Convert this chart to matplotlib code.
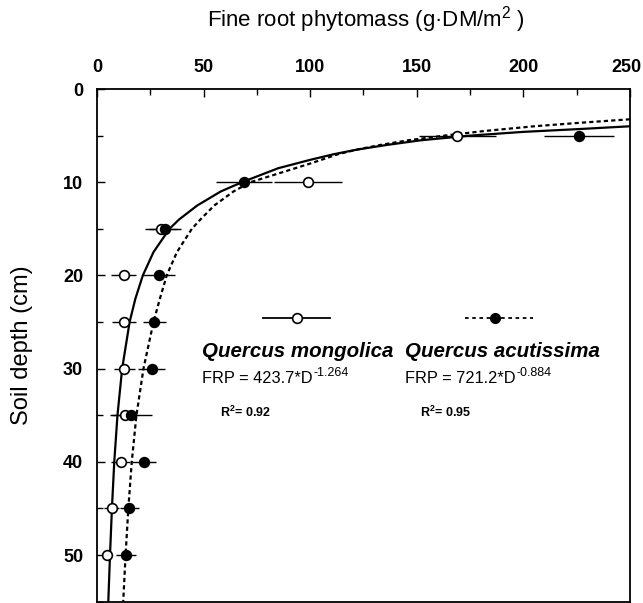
import matplotlib
matplotlib.use("Agg")
import matplotlib.pyplot as plt
from matplotlib.ticker import MultipleLocator
from matplotlib.transforms import ScaledTranslation

plt.rcParams['font.family'] = ['Liberation Sans', 'DejaVu Sans']
plt.rcParams['mathtext.fontset'] = 'custom'
plt.rcParams['mathtext.rm'] = 'Liberation Sans'
plt.rcParams['mathtext.bf'] = 'Liberation Sans:bold'
plt.rcParams['mathtext.default'] = 'regular'

# ---- data ----
depths = [5, 10, 15, 20, 25, 30, 35, 40, 45, 50]
mongolica_frp = [169, 99, 30, 12.5, 12.8, 12.8, 13, 11.2, 7, 4.6]
mongolica_se = [18, 16, 7.5, 6, 5.6, 5, 6, 4.5, 3.5, 2]
acutissima_frp = [226, 69, 32, 29, 26.9, 25.6, 15.9, 22.2, 15.2, 13.6]
acutissima_se = [16.5, 13, 7.5, 7.5, 5.5, 6.2, 9.7, 5.7, 4.3, 4.7]

# fitted curves as drawn (depth, FRP)
mong_curve_depth = [4.0, 4.3, 4.6, 5.0, 5.5, 6.0, 6.5, 7.0, 7.6, 8.5, 10, 11, 12.5, 14, 15,
                    17.5, 20, 22.5, 25, 30, 35, 40, 45, 50, 55]
mong_curve_frp = [250, 226, 200, 175, 152, 136, 122, 111, 100, 85, 68, 58, 47, 38.5, 34,
                  26.5, 21.5, 18, 15.3, 11.8, 9.6, 8.1, 7.0, 6.1, 5.3]
acut_curve_depth = [3.25, 3.6, 4.0, 4.5, 5.0, 5.5, 6.0, 6.5, 7.0, 8.0, 9.0, 10, 11, 12.5, 14,
                    15, 17.5, 20, 22.5, 25, 30, 35, 40, 45, 50, 55]
acut_curve_frp = [250, 228, 205, 182, 163, 146, 133, 122, 113, 100, 86, 72, 64, 55, 48.5,
                  44.5, 37.5, 32.7, 29.5, 26.5, 21.8, 18.5, 16.3, 14.7, 13.4, 12.3]

x_ticks = [0, 50, 100, 150, 200, 250]
y_ticks = [0, 10, 20, 30, 40, 50]

fig = plt.figure(figsize=(6.43, 6.03), dpi=100)
ax = fig.add_axes([97/643, 1 - 601.6/603, 533/643, (601.6 - 89)/603])

ax.plot(mong_curve_frp, mong_curve_depth, color='black', lw=1.6)
ax.plot(acut_curve_frp, acut_curve_depth, color='black', lw=1.6, dashes=(1.9, 1.4))

ax.errorbar(mongolica_frp, depths, xerr=mongolica_se, fmt='o', mfc='white', mec='black',
            mew=1.2, ms=7, ecolor='black', elinewidth=1.0, capsize=0, zorder=4)
ax.errorbar(acutissima_frp, depths, xerr=acutissima_se, fmt='o', mfc='black', mec='black',
            mew=1.2, ms=7, ecolor='black', elinewidth=1.0, capsize=0, zorder=4)

ax.set_xlim(0, 250)
ax.set_ylim(55, 0)
ax.xaxis.tick_top()
ax.set_xticks(x_ticks)
ax.set_yticks(y_ticks)
ax.xaxis.set_minor_locator(MultipleLocator(25))
ax.yaxis.set_minor_locator(MultipleLocator(5))
ax.tick_params(which='both', direction='in', top=True, bottom=False, left=True, right=False,
               labeltop=True, labelbottom=False)
ax.tick_params(which='major', length=6, width=1.0)
ax.tick_params(which='minor', length=4, width=1.0)
ax.tick_params(axis='x', pad=9)
ax.tick_params(axis='y', pad=10)
for lab in ax.get_xticklabels() + ax.get_yticklabels():
    lab.set_fontweight('bold')
    lab.set_fontsize(13)
for s in ax.spines.values():
    s.set_linewidth(1.3)

# nudge the last top tick label so it stays inside the figure
last_tick = ax.xaxis.get_major_ticks()[-1]
last_tick.label2.set_transform(last_tick.label2.get_transform() +
                               ScaledTranslation(-4/100, 0, fig.dpi_scale_trans))

fig.text(207/643, 1 - 20/603, 'Fine root phytomass (g·DM/m$^{2}$ )', ha='left', va='center',
         fontsize=16)
fig.text(22/643, 1 - 345/603, 'Soil depth (cm)', rotation=90, ha='center', va='center',
         fontsize=17)

# legend symbols
ly = 1 - (318 - 89) / 512.6
ax.plot([0.311, 0.437], [ly, ly], transform=ax.transAxes, color='black', lw=1.3)
ax.plot([0.375], [ly], 'o', transform=ax.transAxes, mfc='white', mec='black', mew=1.2, ms=7)
ax.plot([0.690, 0.818], [ly, ly], transform=ax.transAxes, color='black', lw=1.3,
        dashes=(2, 2))
ax.plot([0.747], [ly], 'o', transform=ax.transAxes, mfc='black', mec='black', ms=7)

ax.text(0.197, 0.4875, 'Quercus mongolica', transform=ax.transAxes, fontsize=14.8,
        fontweight='bold', fontstyle='italic', va='center', ha='left')
ax.text(0.578, 0.4875, 'Quercus acutissima', transform=ax.transAxes, fontsize=14.8,
        fontweight='bold', fontstyle='italic', va='center', ha='left')
t1 = ax.text(0.197, 0.436, 'FRP = 423.7*D', transform=ax.transAxes, fontsize=11.8,
             va='center', ha='left')
t2 = ax.text(0.578, 0.436, 'FRP = 721.2*D', transform=ax.transAxes, fontsize=11.8,
             va='center', ha='left')
ax.annotate('-1.264', xy=(1, 0.85), xycoords=t1, xytext=(1, 0), textcoords='offset points',
            fontsize=9, va='center', ha='left')
ax.annotate('-0.884', xy=(1, 0.85), xycoords=t2, xytext=(1, 0), textcoords='offset points',
            fontsize=9, va='center', ha='left')
ax.text(0.231, 0.37, r'R$^{\mathbf{2}}$= 0.92', transform=ax.transAxes, fontsize=9,
        fontweight='bold', va='center', ha='left')
ax.text(0.606, 0.37, r'R$^{\mathbf{2}}$= 0.95', transform=ax.transAxes, fontsize=9,
        fontweight='bold', va='center', ha='left')

fig.savefig('out.png', dpi=100)
